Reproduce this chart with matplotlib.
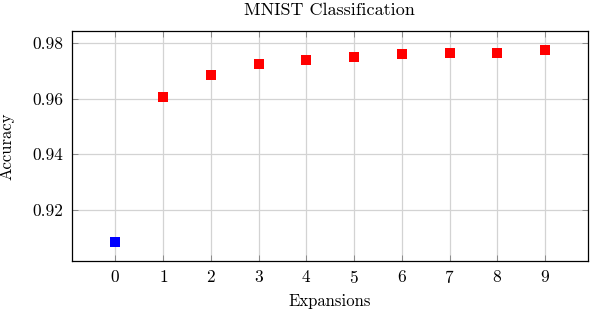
import matplotlib
matplotlib.use("Agg")
import matplotlib.pyplot as plt

# data
base_x = [0]
base_acc = [0.9085]
exp_x = [1, 2, 3, 4, 5, 6, 7, 8, 9]
exp_acc = [0.9607, 0.9684, 0.9725, 0.9738, 0.9749, 0.9762, 0.9763, 0.9765, 0.9775]
x_ticks = list(range(10))
y_ticks = [0.92, 0.94, 0.96, 0.98]

plt.rcParams["font.family"] = ["cmr10", "DejaVu Serif"]
plt.rcParams["mathtext.fontset"] = "cm"
plt.rcParams["axes.formatter.use_mathtext"] = True

fig = plt.figure(figsize=(5.9, 3.12), dpi=100)
ax = fig.add_axes([0.122, 0.1635, 0.8746, 0.7371])

ax.grid(True, color="#d3d3d3", linewidth=0.9, zorder=0)
ax.set_axisbelow(True)

ax.scatter(base_x, base_acc, marker="s", s=42, color="blue", linewidths=0, zorder=3)
ax.scatter(exp_x, exp_acc, marker="s", s=42, color="red", linewidths=0, zorder=3)

ax.set_xlim(-0.91, 9.9)
ax.set_ylim(0.9015, 0.9844)
ax.set_xticks(x_ticks)
ax.set_yticks(y_ticks)
ax.set_yticklabels([f"{v:.2f}" for v in y_ticks])
ax.tick_params(direction="in", top=True, right=True, length=4, width=0.6,
               color="#808080", labelsize=12.5, pad=6)

for s in ax.spines.values():
    s.set_linewidth(0.9)

# title placed in figure coords, well above the frame
fig.text(0.559, 0.968, "MNIST Classification", fontsize=13, ha="center", va="center")
ax.set_xlabel("Expansions", fontsize=12, labelpad=5)
ax.set_ylabel("Accuracy", fontsize=12, labelpad=13)

fig.savefig("out.png", dpi=100)
